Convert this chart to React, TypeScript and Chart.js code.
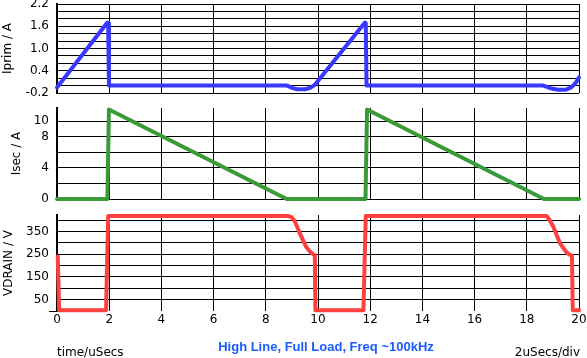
import React, { useEffect, useRef } from "react";
import { Chart, registerables } from "chart.js";

Chart.register(...registerables);

// ---- data ----
const timeTicks = [0, 2, 4, 6, 8, 10, 12, 14, 16, 18, 20];

const iprimTime = [0, 1.93, 1.96, 1.99, 8.82, 9.0, 9.2, 9.5, 9.7, 9.88, 11.8, 11.83, 11.86, 18.64, 18.9, 19.2, 19.5, 19.7, 19.8, 19.9, 20];
const iprimValue = [-0.05, 1.7, 1.68, 0.0, 0.0, -0.06, -0.1, -0.1, -0.06, 0.02, 1.7, 1.68, 0.0, 0.0, -0.07, -0.11, -0.11, -0.05, 0.02, 0.1, 0.22];
const iprimGrid = [-0.2, 0, 0.2, 0.4, 0.6, 0.8, 1.0, 1.2, 1.4, 1.6, 1.8, 2.0, 2.2];
const iprimTickLabels = ["2.2", "1.6", "1.0", "0.4", "-0.2"];

const isecTime = [0, 1.93, 1.99, 8.8, 11.82, 11.88, 18.66, 20];
const isecValue = [0, 0, 11.5, 0, 0, 11.5, 0, 0];
const isecGrid = [0, 2, 4, 6, 8, 10];
const isecTickLabels = ["10", "8", "4", "0"];

const vdrainTime = [0.03, 0.08, 1.88, 1.96, 8.85, 9.0, 9.12, 9.31, 9.54, 9.69, 9.85, 9.88, 9.9, 11.74, 11.83, 18.75, 18.85, 19.02, 19.28, 19.54, 19.7, 19.73, 19.76, 20];
const vdrainValue = [240, 3, 3, 418, 418, 412, 392, 340, 283, 261, 246, 242, 3, 3, 418, 418, 405, 369, 296, 255, 244, 242, 3, 3];
const vdrainGrid = [0, 50, 100, 150, 200, 250, 300, 350, 400];
const vdrainTickLabels = ["350", "250", "150", "50"];

const FONT = "'DejaVu Sans', Verdana, sans-serif";

type PanelCfg = {
  times: number[];
  values: number[];
  color: string;
  min: number;
  max: number;
  grid: number[];
  labels: string[];
  decimals: number;
  title: string;
  titlePad: number;
  top: number;
  bottom: number;
  showX: boolean;
  hideZeroGrid: boolean;
};

function makeChart(canvas: HTMLCanvasElement, c: PanelCfg) {
  return new Chart(canvas, {
    type: "line",
    data: {
      datasets: [
        {
          data: c.times.map((t, i) => ({ x: t, y: c.values[i] })),
          borderColor: c.color,
          borderWidth: 4,
          pointRadius: 0,
          tension: 0,
          clip: false as any,
          borderJoinStyle: "round",
          borderCapStyle: "round",
        },
      ],
    },
    options: {
      animation: false,
      responsive: false,
      maintainAspectRatio: false,
      events: [],
      layout: { padding: { left: 0, right: 8, top: c.top, bottom: 0 } },
      plugins: { legend: { display: false }, tooltip: { enabled: false } },
      scales: {
        x: {
          type: "linear",
          min: 0,
          max: 20,
          afterBuildTicks: (ax: any) => {
            ax.ticks = timeTicks.map((v) => ({ value: v }));
          },
          afterFit: (ax: any) => {
            ax.height = 358 - c.bottom;
            ax.paddingLeft = 0;
            ax.paddingRight = 0;
          },
          ticks: {
            display: c.showX,
            padding: 2,
            color: "#000",
            autoSkip: false,
            maxRotation: 0,
            font: { family: FONT, size: 12 },
            callback: (v: any) => String(v),
          },
          grid: { color: "#000", lineWidth: 1, drawTicks: false },
          border: { display: false },
        },
        y: {
          type: "linear",
          min: c.min,
          max: c.max,
          afterBuildTicks: (ax: any) => {
            ax.ticks = c.grid.map((v) => ({ value: v }));
          },
          afterFit: (ax: any) => {
            ax.width = 57;
            ax.paddingTop = 0;
            ax.paddingBottom = 0;
          },
          ticks: {
            padding: 0,
            color: "#000",
            autoSkip: false,
            font: { family: FONT, size: 12 },
            callback: (v: any) => {
              const s = Number(v).toFixed(c.decimals);
              return c.labels.includes(s) ? s : "";
            },
          },
          grid: {
            lineWidth: 1,
            drawTicks: true,
            tickLength: 8,
            color: (ctx: any) =>
              c.hideZeroGrid && ctx.tick && ctx.tick.value === 0 ? "rgba(0,0,0,0)" : "#000",
            tickColor: (ctx: any) =>
              c.hideZeroGrid && ctx.tick && ctx.tick.value === 0 ? "#000" : "rgba(0,0,0,0)",
          },
          border: { display: true, color: "#000", width: 2 },
          title: {
            display: true,
            text: c.title,
            color: "#000",
            font: { family: FONT, size: 12 },
            padding: { top: c.titlePad, bottom: 0 },
          },
        },
      },
    },
  } as any);
}

export default function App() {
  const r1 = useRef<HTMLCanvasElement>(null);
  const r2 = useRef<HTMLCanvasElement>(null);
  const r3 = useRef<HTMLCanvasElement>(null);

  useEffect(() => {
    document.body.style.margin = "0";
    const charts = [
      makeChart(r1.current!, {
        times: iprimTime, values: iprimValue, color: "#3838ff",
        min: -0.2, max: 2.2, grid: iprimGrid, labels: iprimTickLabels, decimals: 1,
        title: "Iprim / A", titlePad: 1, top: 4, bottom: 93, showX: false, hideZeroGrid: false,
      }),
      makeChart(r2.current!, {
        times: isecTime, values: isecValue, color: "#3a9a3a",
        min: 0, max: 11.7, grid: isecGrid, labels: isecTickLabels, decimals: 0,
        title: "Isec / A", titlePad: 10, top: 108, bottom: 199, showX: false, hideZeroGrid: false,
      }),
      makeChart(r3.current!, {
        times: vdrainTime, values: vdrainValue, color: "#ff4040",
        min: 0, max: 422, grid: vdrainGrid, labels: vdrainTickLabels, decimals: 0,
        title: "VDRAIN / V", titlePad: 2, top: 215, bottom: 311, showX: true, hideZeroGrid: true,
      }),
    ];
    return () => charts.forEach((ch) => ch.destroy());
  }, []);

  const cs: React.CSSProperties = { position: "absolute", left: 0, top: 0, width: 587, height: 358 };
  const txt: React.CSSProperties = {
    position: "absolute", fontFamily: FONT, fontSize: 12, lineHeight: "14px",
    color: "#000", whiteSpace: "nowrap",
  };

  return (
    <div style={{ position: "absolute", left: 0, top: 0, width: 587, height: 358, background: "#fff", overflow: "hidden" }}>
      <canvas ref={r1} width={587} height={358} style={cs} />
      <canvas ref={r2} width={587} height={358} style={cs} />
      <canvas ref={r3} width={587} height={358} style={cs} />
      <div style={{ ...txt, left: 57, top: 345 }}>time/uSecs</div>
      <div style={{ ...txt, right: 7, top: 345 }}>2uSecs/div</div>
      <div
        style={{
          ...txt, left: 326, top: 339, transform: "translateX(-50%)",
          fontFamily: "'Liberation Sans', Arial, sans-serif", fontWeight: "bold",
          fontSize: 13, lineHeight: "15px", color: "#1a5cff",
        }}
      >
        High Line, Full Load, Freq ~100kHz
      </div>
    </div>
  );
}
